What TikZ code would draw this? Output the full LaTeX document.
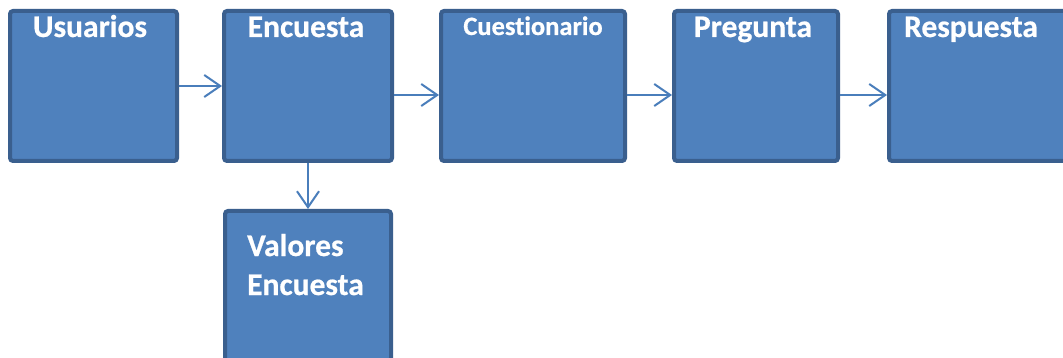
\documentclass[tikz,border=0pt]{standalone}
\usepackage{fontspec}
\setmainfont[Ligatures={NoCommon},BoldFeatures={FakeBold=0.6}]{Carlito}
\usetikzlibrary{arrows.meta}
\definecolor{boxfill}{HTML}{4F81BD}
\definecolor{boxline}{HTML}{3A5F8E}
\definecolor{arr}{HTML}{4A7EBB}
\begin{document}
\begin{tikzpicture}[x=1pt,y=-1pt,
  box/.style={draw=boxline, fill=boxfill, line width=4pt, rounded corners=3pt, inner sep=0pt},
  lbl/.style={text=white, font=\bfseries\fontsize{31.5}{36}\selectfont, inner sep=0pt, anchor=base},
  small/.style={font=\bfseries\fontsize{26.5}{30}\selectfont},
  conn/.style={draw=arr, line width=2pt, -{Straight Barb[length=16pt,width=22pt,line width=2pt]}}]
\fill[white] (0,0) rectangle (1063,358);
\useasboundingbox (0,0) rectangle (1063,358);
\clip (0,0) rectangle (1063,358);
\node[box, minimum width=167pt, minimum height=150pt] (usu) at (93.5,86) {};
\node[box, minimum width=168pt, minimum height=150pt] (enc) at (308,86) {};
\node[box, minimum width=184pt, minimum height=150pt] (cue) at (533,86) {};
\node[box, minimum width=164pt, minimum height=150pt] (pre) at (756,86) {};
\node[box, minimum width=186pt, minimum height=150pt] (res) at (982,86) {};
\node[box, minimum width=166pt, minimum height=150pt] (val) at (308,286) {};
\draw[conn] (usu.east) -- (enc.west);
\draw[conn] ([yshift=-9pt]enc.east) -- ([yshift=-9pt]cue.west);
\draw[conn] ([yshift=-9pt]cue.east) -- ([yshift=-9pt]pre.west);
\draw[conn] ([yshift=-9pt]pre.east) -- ([yshift=-9pt]res.west);
\draw[conn] (enc.south) -- (val.north);
\node[lbl] (usuT) at (90,37) {Usuarios};
\node[lbl] (encT) at (306,37) {Encuesta};
\node[lbl, small] (cueT) at (533,35) {Cuestionario};
\node[lbl] (preT) at (753,37) {Pregunta};
\node[lbl] (resT) at (971,37) {Respuesta};
\node[lbl, anchor=base west] (valT1) at (247,256) {Valores};
\node[lbl, anchor=base west] (valT2) at (247,295) {Encuesta};
\end{tikzpicture}
\end{document}
